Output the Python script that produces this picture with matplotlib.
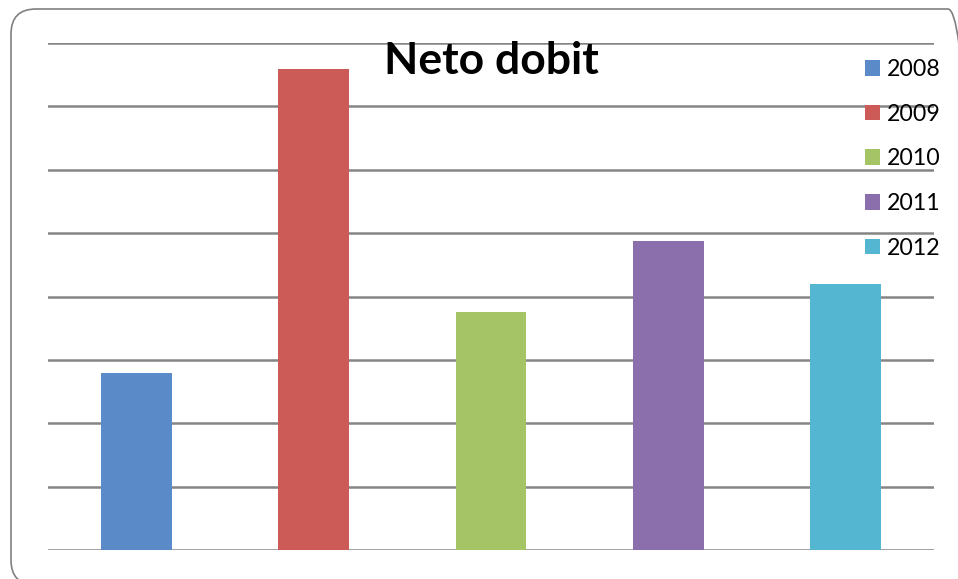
import matplotlib
matplotlib.use("Agg")
import matplotlib.pyplot as plt
from matplotlib.patches import FancyBboxPatch, Patch

years = ["2008", "2009", "2010", "2011", "2012"]
values = [2.79, 7.59, 3.76, 4.88, 4.20]
colors = ["#5a8bc8", "#cc5b57", "#a5c465", "#8b6fad", "#54b6d1"]

plt.rcParams["font.family"] = ["Lato", "DejaVu Sans"]

fig = plt.figure(figsize=(9.58, 5.79), dpi=100)
fig.patch.set_facecolor("white")

# rounded frame around the chart
frame = FancyBboxPatch((0.11, -0.06), 9.62, 5.76,
                       boxstyle="round,pad=0,rounding_size=0.25",
                       transform=fig.dpi_scale_trans,
                       facecolor="none", edgecolor="#808080", linewidth=1.2,
                       zorder=0)
fig.patches.append(frame)

ax = fig.add_axes([48 / 958, 1 - 550 / 579, (934 - 48) / 958, (550 - 43) / 579])
ax.set_xlim(-0.5, len(years) - 0.5)
ax.set_ylim(0, 8)

for y in range(0, 9):
    ax.axhline(y, color="#858585", linewidth=1.8, zorder=1)

x = range(len(years))
ax.bar(x, values, width=0.4, color=colors, zorder=2)

for s in ax.spines.values():
    s.set_visible(False)
ax.set_xticks([])
ax.set_yticks([])
ax.patch.set_alpha(0)

ax.text(0.5, 0.964, "Neto dobit", transform=ax.transAxes, ha="center",
        va="center", fontsize=32, fontweight="bold", color="black", zorder=3)

handles = [Patch(facecolor=c, edgecolor="none") for c in colors]
fig.legend(handles, years, loc="upper left", bbox_to_anchor=(865 / 958, 1 - 59 / 579),
           frameon=False, fontsize=16.7, handlelength=0.65, handleheight=0.65,
           handletextpad=0.3, labelspacing=1.02, borderpad=0, borderaxespad=0)

fig.savefig("out.png", dpi=100)
